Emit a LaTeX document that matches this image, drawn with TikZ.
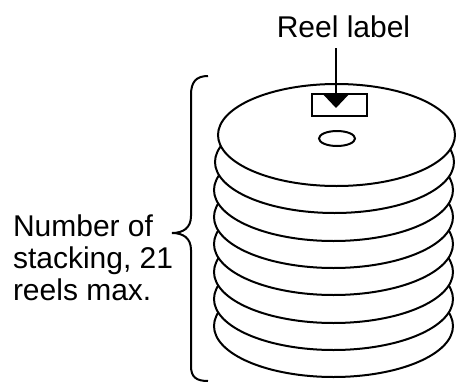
\documentclass[tikz,border=0pt]{standalone}
\usepackage{fontspec}
\setmainfont{Liberation Sans}
\usetikzlibrary{arrows.meta}
\tikzset{
  reel/.style={draw,fill=white,line width=2pt},
  caption/.style={font=\fontsize{30}{32}\selectfont,inner sep=0pt}
}
\begin{document}
\begin{tikzpicture}[x=1pt,y=-1pt,line width=2pt]
      \useasboundingbox (0,0) rectangle (456,383);
      % stack of reels, lowest first
      \draw[reel] (333.5,326) ellipse [x radius=119.5,y radius=51];
      \draw[reel] (333.5,299) ellipse [x radius=119.5,y radius=51];
      \draw[reel] (333.5,272) ellipse [x radius=119.5,y radius=51];
      \draw[reel] (333.5,244) ellipse [x radius=119.5,y radius=51];
      \draw[reel] (333.5,217) ellipse [x radius=119.5,y radius=51];
      \draw[reel] (333.5,190) ellipse [x radius=119.5,y radius=51];
      \draw[reel] (334.5,162) ellipse [x radius=119.5,y radius=51];
      \draw[reel] (336.5,135) ellipse [x radius=118.5,y radius=51];
      \draw (337,138.5) ellipse [x radius=18,y radius=7.5];
      \node[draw,minimum width=55pt,minimum height=22pt,inner sep=0pt] (tag) at (339.5,105) {};
      \coordinate (tagtip) at (336,108);
      \node[caption,anchor=base] (reellabel) at (343.5,37) {Reel label};
      \draw[-{Triangle[width=26pt,length=14pt]}] (336,48) -- (tagtip);
      % brace and count
      \draw (208,76) .. controls (196,76) and (191,82) .. (191,95) -- (191,216)
        .. controls (191,228) and (183,233) .. (172,233)
        .. controls (183,233) and (191,238) .. (191,250) -- (191,366)
        .. controls (191,377) and (196,381) .. (208,381);
      \node[caption,anchor=base west,align=left] (count) at (12,300)
        {Number of\\stacking, 21\\reels max.};
    \end{tikzpicture}
\end{document}
